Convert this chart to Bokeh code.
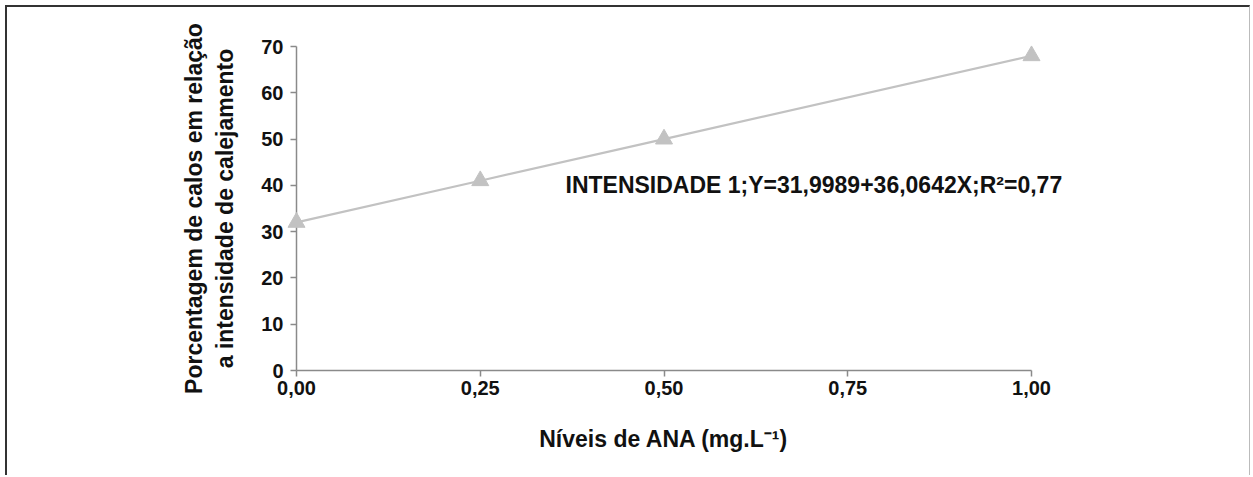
from bokeh.plotting import figure
from bokeh.models import Range1d, FixedTicker
from bokeh.core.properties import value
from bokeh.embed import file_html
from bokeh.resources import INLINE

# Data
ana_levels = [0.0, 0.25, 0.5, 1.0]
calos_pct = [32.0, 41.0, 50.0, 68.0]
x_ticks = [0.0, 0.25, 0.5, 0.75, 1.0]
x_tick_labels = ["0,00", "0,25", "0,50", "0,75", "1,00"]
y_ticks = [0, 10, 20, 30, 40, 50, 60, 70]
equation = "INTENSIDADE 1;Y=31,9989+36,0642X;R\u00b2=0,77"
x_label = "N\u00edveis de ANA (mg.L\u207b\u00b9)"
y_label = "Porcentagem de calos em rela\u00e7\u00e3o\na intensidade de calejamento"

FONT = "Liberation Sans"
GRAY = "#c2c2c2"
AXIS = "#8a8a8a"

p = figure(width=1245, height=470, output_backend="svg", toolbar_location=None,
           x_range=Range1d(0, 1), y_range=Range1d(0, 70),
           min_border_left=289, min_border_right=221, min_border_top=39,
           min_border_bottom=107)
p.styles = {"margin-left": "5px", "margin-top": "5px",
            "border-left": "2px solid #333333", "border-top": "2px solid #333333",
            "border-right": "1px solid #bbbbbb"}
p.outline_line_color = None
p.grid.visible = False
p.background_fill_color = "white"
p.border_fill_color = "white"

p.line(ana_levels, calos_pct, line_color=GRAY, line_width=2.2, level="overlay")
p.scatter(ana_levels, calos_pct, marker="triangle", size=17, fill_color=GRAY,
          line_color=GRAY, level="overlay")

for ax in (p.xaxis[0], p.yaxis[0]):
    ax.axis_line_color = AXIS
    ax.axis_line_width = 1.5
    ax.major_tick_line_color = AXIS
    ax.major_tick_line_width = 1.5
    ax.major_tick_in = 0
    ax.major_tick_out = 6
    ax.minor_tick_line_color = None
    ax.major_label_text_font = FONT
    ax.major_label_text_font_style = "bold"
    ax.major_label_text_font_size = "20px"
    ax.major_label_text_color = "#111111"
    ax.axis_label_text_font = FONT
    ax.axis_label_text_font_style = "bold"
    ax.axis_label_text_font_size = "23px"
    ax.axis_label_text_color = "#111111"

p.xaxis[0].ticker = FixedTicker(ticks=x_ticks)
p.xaxis[0].major_label_overrides = dict(zip(x_ticks, x_tick_labels))
p.xaxis[0].axis_label = x_label
p.xaxis[0].axis_label_standoff = 28
p.xaxis[0].major_label_standoff = 4

p.yaxis[0].ticker = FixedTicker(ticks=y_ticks)
p.yaxis[0].axis_label = y_label
p.yaxis[0].axis_label_standoff = 20
p.yaxis[0].major_label_standoff = 7

p.text(x=[0.366], y=[40], text=[equation], text_font=value(FONT),
       text_font_style="bold", text_font_size="23px", text_color="#111111",
       text_baseline="middle", text_align="left", level="overlay")

open("out.html", "w").write(file_html(p, INLINE))
